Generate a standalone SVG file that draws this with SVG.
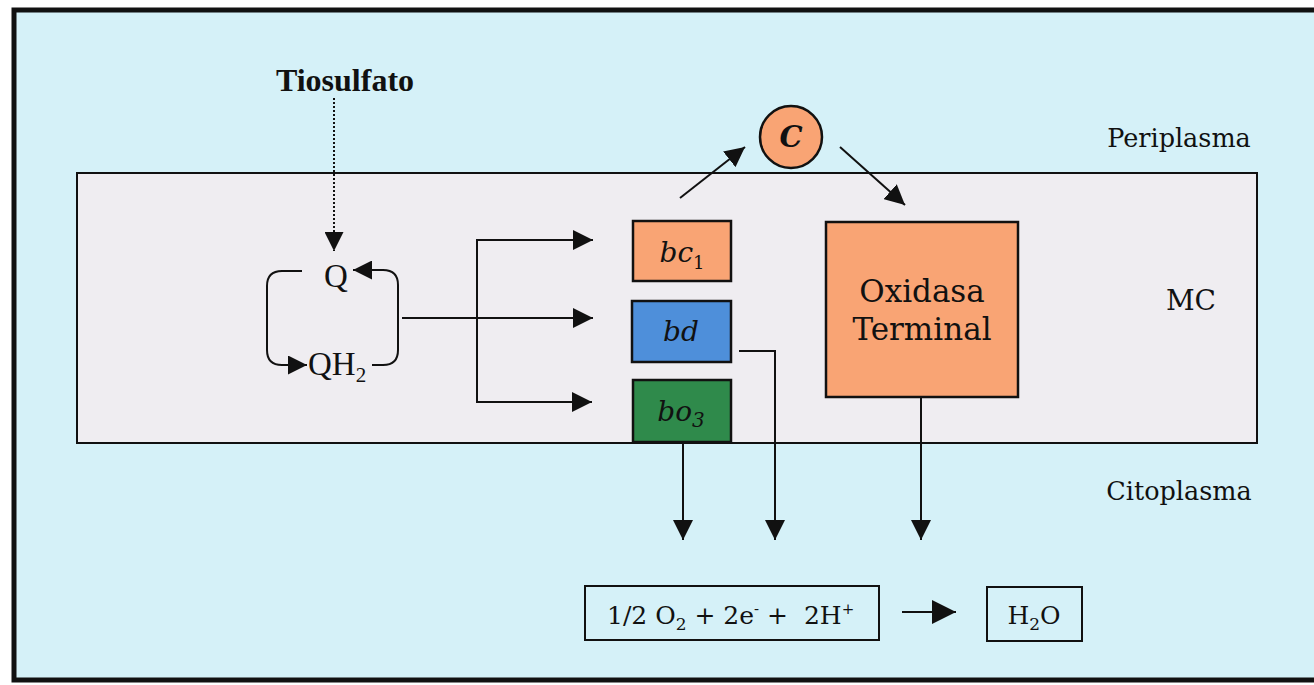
<svg xmlns="http://www.w3.org/2000/svg" width="1314" height="685" viewBox="0 0 1314 685">
<defs>
<marker id="ah" markerUnits="userSpaceOnUse" markerWidth="20" markerHeight="20" refX="20" refY="10" orient="auto" viewBox="0 0 20 20">
<path d="M0,0 L20,10 L0,20 z" fill="#111"/>
</marker>
<marker id="ahs" markerUnits="userSpaceOnUse" markerWidth="19" markerHeight="19" refX="19" refY="9.5" orient="auto" viewBox="0 0 19 19">
<path d="M0,0 L19,9.5 L0,19 z" fill="#111"/>
</marker>
<marker id="ahb" markerUnits="userSpaceOnUse" markerWidth="24" markerHeight="24" refX="24" refY="12" orient="auto" viewBox="0 0 24 24">
<path d="M0,0 L24,12 L0,24 z" fill="#111"/>
</marker>
</defs>
<style>
.conn{fill:none;stroke:#111;stroke-width:2}
.box{stroke:#111;stroke-width:2.5}
.tnr{font-family:"Liberation Serif","Times New Roman",serif;fill:#111}
.bk{font-family:"DejaVu Serif","Liberation Serif",serif;fill:#111}
.it{font-style:italic}
</style>
<rect x="0" y="0" width="1314" height="685" fill="#fff"/>
<rect id="frame" x="14" y="10" width="1310" height="670" fill="#D5F1F8" stroke="#111" stroke-width="5"/>
<g id="membrane">
<rect x="77" y="173" width="1180" height="270" fill="#EFEDF1" stroke="#111" stroke-width="2"/>
<text class="bk" x="1191" y="310" font-size="28" text-anchor="middle">MC</text>
</g>
<g id="periplasma"><text class="bk" x="1179" y="147" font-size="25.5" text-anchor="middle">Periplasma</text></g>
<g id="citoplasma"><text class="bk" x="1179" y="500" font-size="25.5" text-anchor="middle">Citoplasma</text></g>
<g id="tiosulfato"><text class="tnr" x="345" y="91" font-size="32" font-weight="bold" text-anchor="middle">Tiosulfato</text></g>
<g id="Q"><text class="tnr" x="336" y="287" font-size="33" text-anchor="middle">Q</text></g>
<g id="QH2"><text class="tnr" x="308" y="375" font-size="33">QH<tspan font-size="21" dy="7">2</tspan></text></g>
<g id="bc1">
<rect class="box" x="633" y="221" width="98" height="60" fill="#F9A474"/>
<text class="bk it" x="682" y="262" font-size="28" text-anchor="middle">bc<tspan font-size="18" font-style="normal" dy="7">1</tspan></text>
</g>
<g id="bd">
<rect class="box" x="632" y="301" width="99" height="61" fill="#4E8FDA"/>
<text class="bk it" x="681" y="341" font-size="28" text-anchor="middle">bd</text>
</g>
<g id="bo3">
<rect class="box" x="633" y="380" width="98" height="62" fill="#2F8A4B"/>
<text class="bk it" x="681" y="421" font-size="28" text-anchor="middle">bo<tspan font-size="20" dy="6">3</tspan></text>
</g>
<g id="C">
<circle cx="791" cy="137" r="31" fill="#F9A474" stroke="#111" stroke-width="2.5"/>
<text class="bk it" x="791" y="147" font-size="29" font-weight="bold" text-anchor="middle">C</text>
</g>
<g id="oxidasa">
<rect class="box" x="826" y="222" width="192" height="175" fill="#F9A474"/>
<text class="bk" x="922" y="302" font-size="31" text-anchor="middle">Oxidasa</text>
<text class="bk" x="922" y="340" font-size="31" text-anchor="middle">Terminal</text>
</g>
<g id="eq">
<rect x="585" y="586" width="294" height="54" fill="none" stroke="#111" stroke-width="2"/>
<text class="bk" x="607" y="624" font-size="25" xml:space="preserve">1/2 O<tspan font-size="17" dy="6">2</tspan><tspan dy="-6"> + 2e</tspan><tspan font-size="15" dy="-10">-</tspan><tspan dy="10"> +  2H</tspan><tspan font-size="15" dy="-10">+</tspan></text>
</g>
<g id="h2o">
<rect x="987" y="587" width="95" height="54" fill="none" stroke="#111" stroke-width="2"/>
<text class="bk" x="1034" y="624" font-size="25" text-anchor="middle">H<tspan font-size="17" dy="6">2</tspan><tspan dy="-6">O</tspan></text>
</g>
<g id="connectors">
<path class="conn" d="M334,98 V251" stroke-dasharray="2,2" marker-end="url(#ahs)"/>
<path class="conn" d="M302,271 H282 Q267,271 267,286 V350 Q267,365 282,365 H307" marker-end="url(#ahs)"/>
<path class="conn" d="M372,365 H383 Q398,365 398,350 V285 Q398,270 383,270 H353" marker-end="url(#ahs)"/>
<path class="conn" d="M402,318 H593" marker-end="url(#ah)"/>
<path class="conn" d="M593,240 H477 V402 H592" marker-end="url(#ah)"/>
<path class="conn" d="M477,240 H593" marker-end="url(#ah)"/>
<path class="conn" d="M680,198 L745,147" marker-end="url(#ah)"/>
<path class="conn" d="M840,147 L905,205" marker-end="url(#ah)"/>
<path class="conn" d="M683,442 V540" marker-end="url(#ah)"/>
<path class="conn" d="M739,351 H775 V540" marker-end="url(#ah)"/>
<path class="conn" d="M921,397 V540" marker-end="url(#ah)"/>
<path class="conn" d="M902,612 H956" stroke-width="4.5" marker-end="url(#ahb)"/>
</g>
</svg>
